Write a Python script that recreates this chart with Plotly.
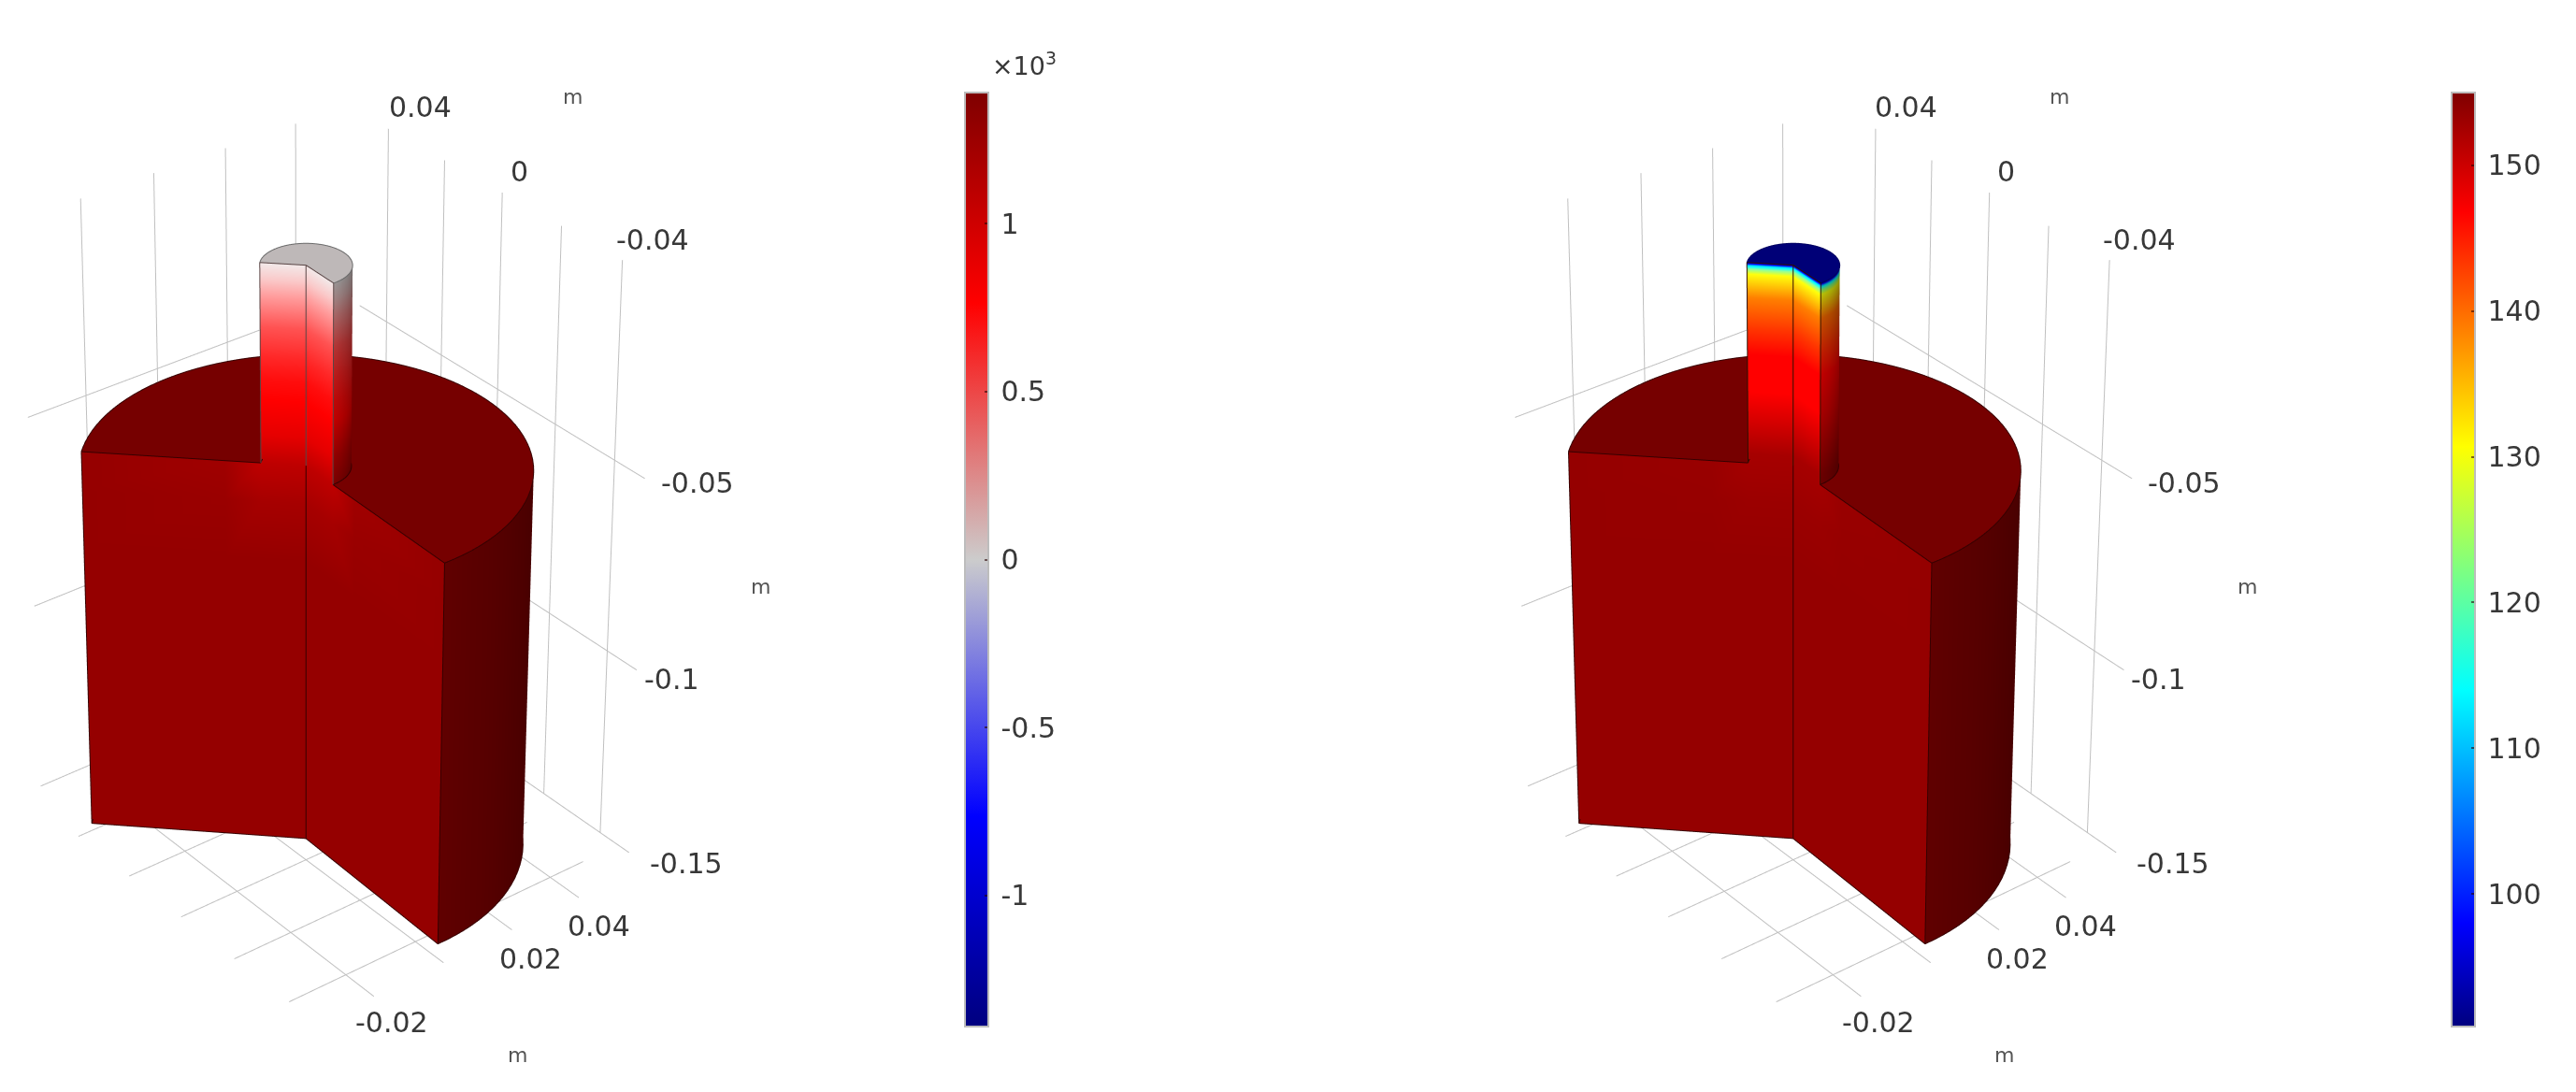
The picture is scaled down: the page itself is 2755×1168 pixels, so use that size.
import numpy as np
import plotly.graph_objects as go

W, H = 2755, 1168
# ---- geometry (metres) ----
big_radius = 0.05
rod_radius = 0.01
z_bottom, z_shoulder, z_top = -0.15, -0.05, 0.0
sector_start, sector_end = -92.0, 135.0   # kept sector, degrees

# ---- field along the rod / upper block ----
rod_rows_z = [0.0, -0.004, -0.008, -0.0157, -0.0234, -0.029, -0.034, -0.043, -0.05]
rod_left_val = [0.02, 0.12, 0.26, 0.50, 0.64, 0.72, 0.77, 1.06, 1.22]
rod_rows_z_r = [0.0, -0.0003, -0.0007, -0.001, -0.0016, -0.0028, -0.0086, -0.0164, -0.0227, -0.032, -0.0477, -0.05]
rod_right_val = [91, 98, 110, 115, 122, 130, 140, 144, 146.8, 149, 154.1, 154.2]
block_rows_z = [-0.05, -0.06, -0.075, -0.15]
block_left_val = [1.22, 1.32, 1.39, 1.39]
block_right_val = [154.2, 154.7, 155, 155]

left_min, left_max = -1.39, 1.39
right_min, right_max = 90.9, 155.0
left_ticks = [-1, -0.5, 0, 0.5, 1]
left_tick_text = ["-1", "-0.5", "0", "0.5", "1"]
right_ticks = [100, 110, 120, 130, 140, 150]
right_tick_text = ["100", "110", "120", "130", "140", "150"]

wave_vals = [-1.39, -0.764, 0, 0.764, 1.39]
wave_cols = [(0, 0, 127), (0, 0, 255), (204, 204, 204), (255, 0, 0), (127, 0, 0)]
jet_vals = [90.9, 98, 114, 130.7, 146.8, 155]
jet_cols = [(0, 0, 127), (0, 0, 255), (0, 255, 255), (255, 255, 0), (255, 0, 0), (127, 0, 0)]

# shading of each surface
shade_cut = 1.18
shade_top = 0.93
curve_deg = [-92, -60, -30, 0, 45, 135]
curve_shade = [0.76, 0.62, 0.52, 0.52, 0.6, 0.7]

# grid ticks
floor_u = [-0.02, 0, 0.02, 0.04]
floor_v = [-0.04, -0.02, 0, 0.02, 0.04]
wall_z = [-0.05, -0.10, -0.15]
u_limits = (-0.036, 0.05)
v_limits = (-0.05, 0.05)
wall_u, wall_v, floor_z = 0.055, 0.055, -0.156

# ---- view ----
focal, pitch = 4920.0, np.radians(29.8)
depth0, cam_z = 1.002, -0.0315
cx, cy = 327.0, 420.0
ca, sa = 0.788, 0.616

# calibration of the orthographic scene
scene_aspect = 2.0
eye_z = 1.0


def project(u, v, z, offset=0.0, bias=0.0):
    u, v, z = np.asarray(u, float), np.asarray(v, float), np.asarray(z, float)
    r = ca * u - sa * v
    g = sa * u + ca * v
    dz = z - cam_z
    d = depth0 + g * np.cos(pitch) - dz * np.sin(pitch)
    yc = g * np.sin(pitch) + dz * np.cos(pitch)
    return cx + offset + focal * r / d, H - (cy - focal * yc / d), -d + bias


def cmap(v, vals, cols, shade=1.0):
    v = np.asarray(v, float)
    ch = [np.interp(v, vals, [c[i] for c in cols]) * shade for i in range(3)]
    return np.clip(np.stack(ch, -1), 0, 255)


def patch(U, V, Z, RGB, scene, offset):
    ny, nx = U.shape
    x, y, z = project(U.ravel(), V.ravel(), Z.ravel(), offset)
    idx = np.arange(ny * nx).reshape(ny, nx)
    a, b, c, d = idx[:-1, :-1].ravel(), idx[:-1, 1:].ravel(), idx[1:, 1:].ravel(), idx[1:, :-1].ravel()
    col = ["rgb(%d,%d,%d)" % tuple(p) for p in RGB.reshape(-1, 3)]
    return go.Mesh3d(x=x, y=y, z=z, i=np.r_[a, a], j=np.r_[b, c], k=np.r_[c, d], vertexcolor=col,
                     flatshading=False, lighting=dict(ambient=1, diffuse=0, specular=0, roughness=1, fresnel=0),
                     hoverinfo="skip", scene=scene, showscale=False)


def polar(r, deg, z):
    t = np.radians(deg)
    return r * np.cos(t), r * np.sin(t), z


def polylines(lines, scene, offset, color, width, bias=0.0):
    xs, ys, zs = [], [], []
    for (u, v, z) in lines:
        x, y, d = project(u, v, z, offset, bias)
        xs += list(x) + [None]
        ys += list(y) + [None]
        zs += list(d) + [None]
    return go.Scatter3d(x=xs, y=ys, z=zs, mode="lines", line=dict(color=color, width=width),
                        hoverinfo="skip", scene=scene, showlegend=False)


def panel(scene, offset, rod_z, rod_val, block_val, vals, cols, vmax, rod_edge, rim_edge):
    tr = []
    thetas = np.arange(sector_start, sector_end + 0.1, 5.0)
    thetas = np.append(thetas[thetas < sector_end], sector_end)
    shade = np.interp(thetas, curve_deg, curve_shade)
    c_max = cmap(vmax, vals, cols)
    # shoulder
    rr = np.array([rod_radius, big_radius])
    T, R = np.meshgrid(thetas, rr)
    u, v, _ = polar(R, T, 0)
    tr.append(patch(u, v, np.full(u.shape, z_shoulder), np.tile(c_max * shade_top, u.shape + (1,)), scene, offset))
    # outer wall
    zz = np.array([z_bottom, z_shoulder])
    T, Z = np.meshgrid(thetas, zz)
    u, v, _ = polar(big_radius, T, 0)
    S = np.tile(shade, (2, 1))[..., None]
    tr.append(patch(u, v, Z, np.clip(c_max[None, None, :] * S, 0, 255), scene, offset))
    # rod wall
    zz = np.array(rod_z)
    T, Z = np.meshgrid(thetas, zz)
    u, v, _ = polar(rod_radius, T, 0)
    rgb = np.stack([cmap(val, vals, cols) * 1.0 for val in rod_val])[:, None, :] * np.tile(shade, (len(zz), 1))[..., None]
    tr.append(patch(u, v, Z, np.clip(rgb, 0, 255), scene, offset))
    # rod cap
    T, R = np.meshgrid(thetas, [0.0, rod_radius])
    u, v, _ = polar(R, T, 0)
    cap = cmap(rod_val[0], vals, cols) * shade_top
    tr.append(patch(u, v, np.full(u.shape, z_top), np.tile(cap, u.shape + (1,)), scene, offset))
    # cut faces
    for deg in (sector_start, sector_end):
        R, Z = np.meshgrid([0.0, rod_radius], rod_z)
        u, v, _ = polar(R, deg, 0)
        rgb = np.stack([cmap(val, vals, cols, shade_cut) for val in rod_val])[:, None, :].repeat(2, 1)
        tr.append(patch(u, v, Z, rgb, scene, offset))
        fade_r = [0.0, rod_radius, 0.018, big_radius]
        fade_w = [1.0, 1.0, 0.25, 0.0]
        R, Z = np.meshgrid(fade_r, block_rows_z)
        u, v, _ = polar(R, deg, 0)
        V = vmax - (vmax - np.array(block_val))[:, None] * np.array(fade_w)[None, :]
        tr.append(patch(u, v, Z, cmap(V, vals, cols, shade_cut), scene, offset))
    # edges
    big, rod = [], []
    arc = np.append(np.arange(sector_start, sector_end, 3.0), sector_end)
    for deg in (sector_start, sector_end):
        a, b, _ = polar(big_radius, deg, 0)
        big.append(([a, a], [b, b], [z_bottom, z_shoulder]))
        big.append(([0, a], [0, b], [z_bottom, z_bottom]))
        c, d, _ = polar(rod_radius, deg, 0)
        big.append(([c, a], [d, b], [z_shoulder, z_shoulder]))
        rod.append(([c, c], [d, d], [z_shoulder, z_top]))
        rod.append(([0, c], [0, d], [z_top, z_top]))
    big.append(([0, 0], [0, 0], [z_bottom, z_shoulder]))
    rod.append(([0, 0], [0, 0], [z_shoulder, z_top]))
    a, b, _ = polar(big_radius, arc, 0)
    big.append((a, b, np.full(a.shape, z_shoulder)))
    big.append((a, b, np.full(a.shape, z_bottom)))
    a, b, _ = polar(rod_radius, arc, 0)
    big.append((a, b, np.full(a.shape, z_shoulder)))
    tr.append(polylines(big, scene, offset, "#360000", 2, 0.002))
    tr.append(polylines(rod, scene, offset, rod_edge, 2, 0.002))
    tr.append(polylines([(a, b, np.full(a.shape, z_top))], scene, offset, rim_edge, 2, 0.002))
    # grid
    g = []
    for u in floor_u:
        g.append(([u, u], v_limits, [floor_z, floor_z]))
    for v in floor_v:
        g.append((u_limits, [v, v], [floor_z, floor_z]))
    for z in wall_z:
        g.append(([wall_u, wall_u], v_limits, [z, z]))
        g.append((u_limits, [wall_v, wall_v], [z, z]))
    for v in floor_v:
        g.append(([wall_u, wall_u], [v, v], [wall_z[-1], z_top]))
    for u in floor_u:
        g.append(([u, u], [wall_v, wall_v], [wall_z[-1], z_top]))
    tr.append(polylines(g, scene, offset, "#c0c0c0", 2))
    return tr


def scale(vals, cols, vmin, vmax):
    return [[(v - vmin) / (vmax - vmin), "rgb(%d,%d,%d)" % c] for v, c in zip(vals, cols)]


def bar(scene, vmin, vmax, colorscale, x_px, tickv, tickt, inner=False):
    axis = dict(ticks="inside", ticklen=5, tickwidth=2, tickcolor="rgba(40,0,0,0.6)", showticklabels=False) if inner else \
        dict(ticks="outside", ticklen=7, tickcolor="rgba(0,0,0,0)", ticktext=tickt,
             tickfont=dict(family="DejaVu Sans", size=30, color="#383838"))
    return go.Scatter3d(x=[100, 100], y=[100, 100], z=[-1.1, -1.1], mode="markers", scene=scene, hoverinfo="skip",
                        marker=dict(size=1, opacity=0, color=[vmin, vmax], cmin=vmin, cmax=vmax, colorscale=colorscale,
                                    showscale=True,
                                    colorbar=dict(x=x_px / W, xanchor="left", xpad=0, ypad=0, y=1 - 99 / H, yanchor="top",
                                                  len=999 / H, lenmode="fraction", thickness=25, thicknessmode="pixels",
                                                  outlinecolor="#bdbdbd", outlinewidth=2, tickvals=tickv, **axis)),
                        showlegend=False)


wave_scale = scale(wave_vals, wave_cols, -1.39, 1.39)
jet_scale = scale(jet_vals, jet_cols, 90.9, 155.0)

traces = panel("scene", 0.0, rod_rows_z, rod_left_val, block_left_val, wave_vals, wave_cols, 1.39, "#5a4545", "#6a6a6a")
traces += panel("scene2", 1590 - W / 2, rod_rows_z_r, rod_right_val, block_right_val, jet_vals, jet_cols, 155.0, "#301000", "#000060")
traces.append(bar("scene", left_min, left_max, wave_scale, 1032, left_ticks, left_tick_text))
traces.append(bar("scene2", right_min, right_max, jet_scale, 2622, right_ticks, right_tick_text))
traces.append(bar("scene", left_min, left_max, wave_scale, 1032, left_ticks, left_tick_text, inner=True))
traces.append(bar("scene2", right_min, right_max, jet_scale, 2622, right_ticks, right_tick_text, inner=True))
fig = go.Figure(traces)

hidden = dict(visible=False, showgrid=False, zeroline=False, showspikes=False)


def scene_layout(x0, x1):
    return dict(domain=dict(x=[x0, x1], y=[0, 1]),
                xaxis=dict(hidden, range=[0, W / 2]), yaxis=dict(hidden, range=[0, H]), zaxis=dict(hidden, range=[-1.2, -0.85]),
                aspectmode="manual", aspectratio=dict(x=scene_aspect * W / 2 / H, y=scene_aspect, z=0.3),
                camera=dict(eye=dict(x=0, y=0, z=eye_z), up=dict(x=0, y=1, z=0), center=dict(x=0, y=0, z=0),
                            projection=dict(type="orthographic")),
                bgcolor="white")


# ---- axis labels ----
tick_labels = ["0.04", "0", "-0.04", "-0.05", "-0.1", "-0.15", "0.04", "0.02", "-0.02"]
tick_x = [449, 555, 698, 746, 718, 734, 640, 567, 419]
tick_y = [114, 184, 256, 516, 726, 923, 990, 1025, 1093]
unit_x = [612, 813, 553]
unit_y = [103, 627, 1128]
notes = []
for off in (0, 1590):
    for t, x, y in zip(tick_labels, tick_x, tick_y):
        notes.append(dict(text=t, x=(x + off) / W, y=1 - y / H, xref="paper", yref="paper", showarrow=False,
                          xanchor="center", yanchor="middle", font=dict(family="DejaVu Sans", size=30, color="#383838")))
    for x, y in zip(unit_x, unit_y):
        notes.append(dict(text="m", x=(x + off) / W, y=1 - y / H, xref="paper", yref="paper", showarrow=False,
                          xanchor="center", yanchor="middle", font=dict(family="DejaVu Sans", size=22, color="#555555")))
notes.append(dict(text="×10<sup>3</sup>", x=1095 / W, y=1 - 68 / H, xref="paper", yref="paper", showarrow=False,
                  xanchor="center", yanchor="middle", font=dict(family="DejaVu Sans", size=27, color="#383838")))

fig.update_layout(width=W, height=H, margin=dict(l=0, r=0, t=0, b=0), paper_bgcolor="white", showlegend=False,
                  scene=scene_layout(0, 0.5), scene2=scene_layout(0.5, 1), annotations=notes)
fig.write_html("out.html", post_script="document.body.style.margin='0';", config={"displayModeBar": False})
